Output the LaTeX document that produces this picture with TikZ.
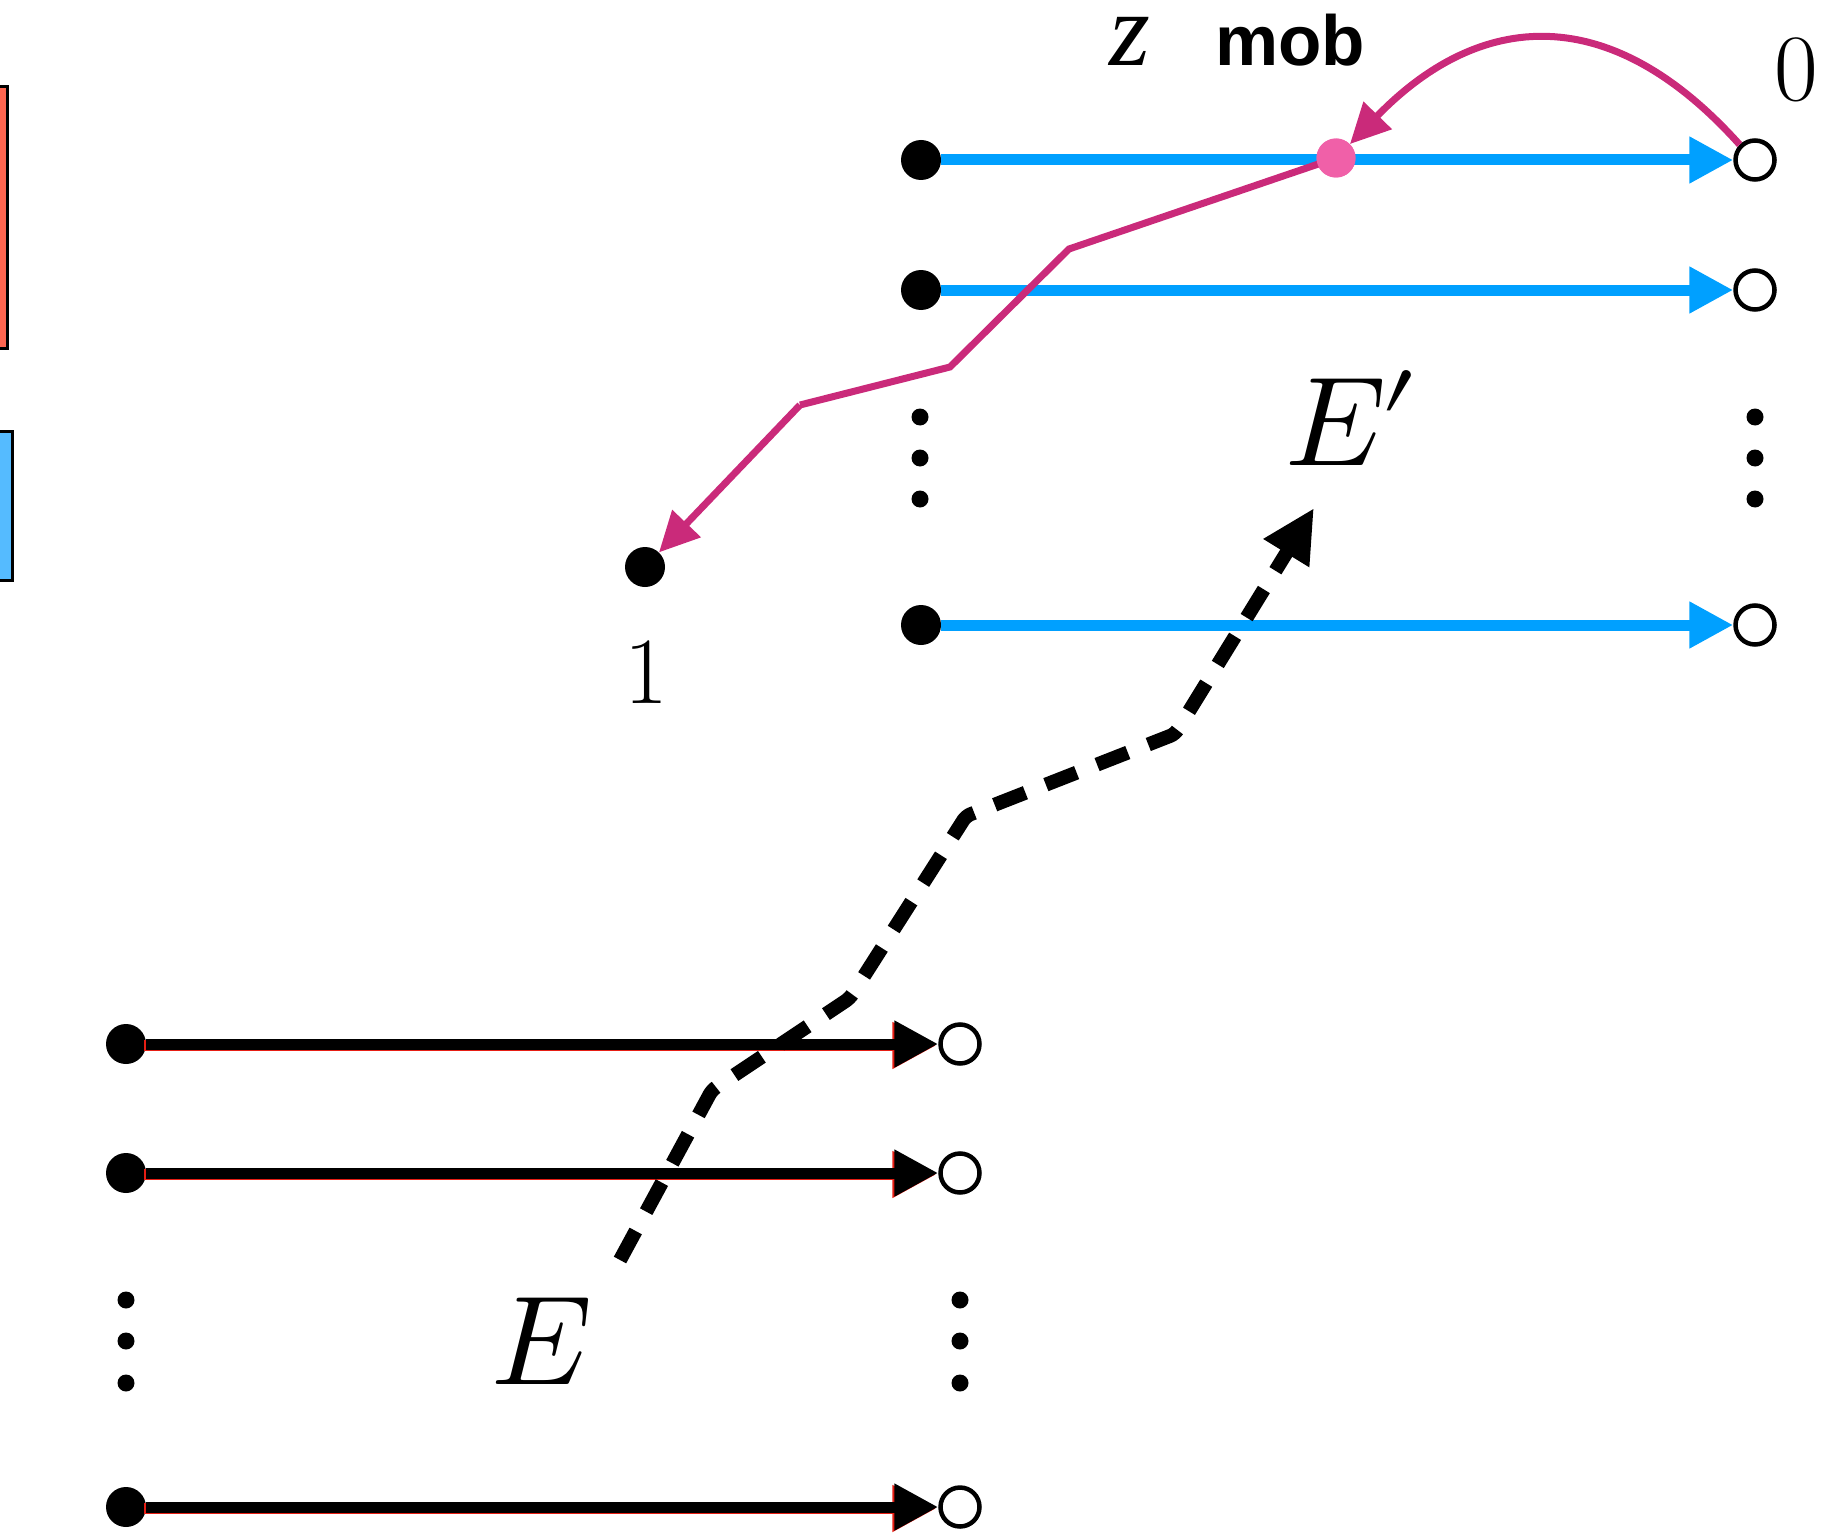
\documentclass[tikz,border=0pt]{standalone}
\usepackage{fontspec}
\usepackage{unicode-math}
\newfontfamily\arialf{Liberation Sans}
\newfontfamily\timesf{Liberation Serif}
\usetikzlibrary{arrows.meta}
\definecolor{bluel}{RGB}{0,160,255}
\definecolor{pinkc}{RGB}{202,42,122}
\definecolor{pinkdot}{RGB}{240,96,168}
\definecolor{redrect}{RGB}{255,102,80}
\definecolor{bluerect}{RGB}{85,187,255}
\definecolor{redline}{RGB}{230,30,20}
\begin{document}
\begin{tikzpicture}[x=1pt,y=-1pt,
  fdot/.style={circle,fill=black,inner sep=0pt,minimum size=40pt},
  odot/.style={circle,draw=black,line width=4.5pt,fill=white,inner sep=0pt,minimum size=39pt},
  edot/.style={circle,fill=black,inner sep=0pt,minimum size=17pt},
  pdot/.style={circle,fill=pinkdot,inner sep=0pt,minimum size=39pt},
  barrow/.style={line width=11pt,draw=bluel,-{Triangle[length=44pt,width=44pt,fill=bluel]}},
  karrow/.style={line width=11pt,draw=black,-{Triangle[length=44pt,width=44pt]}},
  rarrow/.style={line width=11pt,draw=redline,-{Triangle[length=44pt,width=44pt]}},
  parrow/.style={line width=7pt,draw=pinkc,-{Triangle[length=40pt,width=38pt]}},
  darrow/.style={line width=14pt,black,dash pattern=on 33pt off 22pt,rounded corners=5pt,-{Triangle[length=53pt,width=50pt]}},
  lbl/.style={inner sep=0pt,text=black},
]
\useasboundingbox (0,0) rectangle (1845,1533);
% legend rectangles at the left edge
\draw[fill=redrect,line width=3pt] (-10,87) rectangle (7,348);
\draw[fill=bluerect,line width=3pt] (-10,431) rectangle (12,580);

% top group
\node[fdot] (a1) at (921,160) {};
\node[fdot] (a2) at (921,290) {};
\node[fdot] (a3) at (921,625) {};
\node[odot] (b1) at (1755,160) {};
\node[odot] (b2) at (1755,290) {};
\node[odot] (b3) at (1755,625) {};
\node[edot] (ae1) at (920,417) {};
\node[edot] (ae2) at (920,458) {};
\node[edot] (ae3) at (920,499) {};
\node[edot] (be1) at (1755,417) {};
\node[edot] (be2) at (1755,458) {};
\node[edot] (be3) at (1755,499) {};
\draw[barrow] (a1) -- (b1);
\draw[barrow] (a2) -- (b2);
\draw[barrow] (a3) -- (b3);

% bottom group
\node[fdot] (c1) at (126,1044) {};
\node[fdot] (c2) at (126,1173) {};
\node[fdot] (c3) at (126,1507) {};
\node[odot] (d1) at (960,1044) {};
\node[odot] (d2) at (960,1173) {};
\node[odot] (d3) at (960,1507) {};
\node[edot] (ce1) at (126,1300) {};
\node[edot] (ce2) at (126,1341) {};
\node[edot] (ce3) at (126,1383) {};
\node[edot] (de1) at (960,1300) {};
\node[edot] (de2) at (960,1341) {};
\node[edot] (de3) at (960,1383) {};
\foreach \i in {1,2,3}{
  \draw[rarrow] ([shift={(-2,1.5)}]c\i.east) -- ([shift={(-2,1.5)}]d\i.west);
  \draw[karrow] (c\i) -- (d\i);
}

% lone point 1
\node[fdot] (p1) at (645,567) {};
\node[lbl,font=\fontsize{95}{95}\selectfont] (l1) at (646,672) {1};

% pink polyline and dot
\node[pdot] (pm) at (1336,158) {};
\coordinate (q1) at (1069,249);
\coordinate (q2) at (950,367);
\coordinate (q3) at (800,405);
\draw[line width=7pt,draw=pinkc] (pm.center) -- (q1) -- (q2) -- (q3);
\draw[parrow] (q3) -- (p1);
\node[pdot] at (pm) {};
% pink curve
\draw[parrow] (b1.north west) .. controls (1610,0) and (1480,10) .. (pm.north east);

% dashed path
\coordinate (s0) at (620,1260);
\coordinate (s1) at (712,1090);
\coordinate (s2) at (850,998);
\coordinate (s3) at (966,816);
\coordinate (s4) at (1175,734);
\coordinate (s5) at (1314,508);
\draw[darrow] (s0) -- (s1) -- (s2) -- (s3) -- (s4) -- (s5);

% labels
\node[lbl,anchor=base,font=\timesf\itshape\fontsize{105}{105}\selectfont] (lz) at (1130,66) {z};
\node[lbl,font=\arialf\bfseries\fontsize{71}{71}\selectfont] (lmob) at (1290,40) {mob};
\node[lbl,font=\fontsize{95}{95}\selectfont] (l0) at (1796,70) {0};
\node[lbl,font=\fontsize{127}{127}\selectfont] (lEp) at (1352,418) {$E\mkern-1mu\prime$};
\node[lbl,font=\fontsize{127}{127}\selectfont] (lE) at (542,1341) {$E$};
\end{tikzpicture}
\end{document}
